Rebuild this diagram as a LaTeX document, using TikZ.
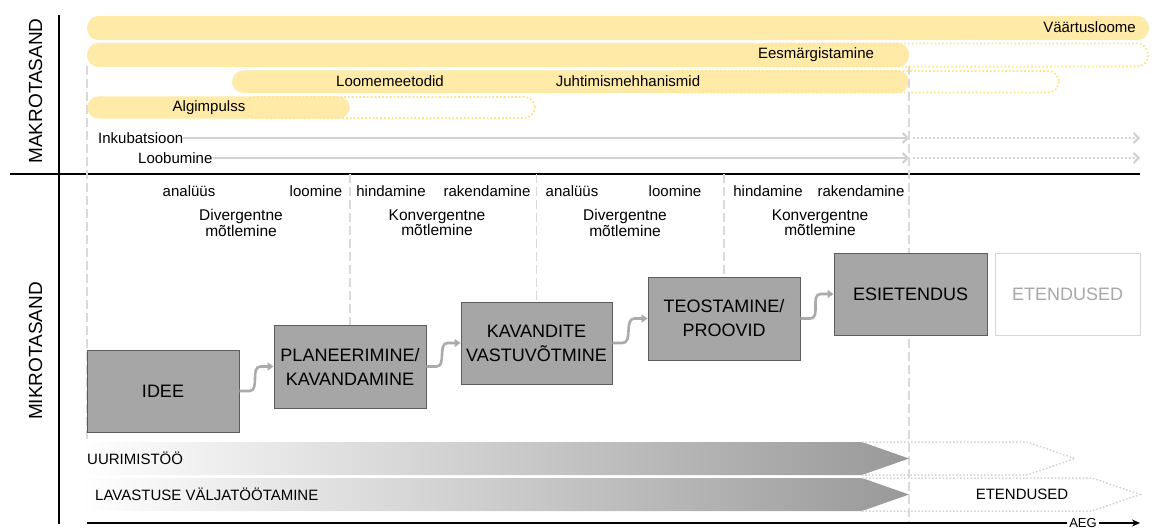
\documentclass[tikz,border=0pt]{standalone}
\usepackage{fontspec}
\setmainfont{Liberation Sans}
\usetikzlibrary{arrows.meta,calc}

\definecolor{barYellow}{HTML}{FFEAA8}
\definecolor{dotYellow}{HTML}{FFE490}
\definecolor{guide}{HTML}{DADADA}
\definecolor{trackGray}{HTML}{D2D2D2}
\definecolor{boxGray}{HTML}{A6A6A6}
\definecolor{boxEdge}{HTML}{5C5C5C}
\definecolor{flowGray}{HTML}{ABABAB}
\definecolor{ghostText}{HTML}{A8A8A8}
\definecolor{ghostEdge}{HTML}{D6D6D6}

\begin{document}
\begin{tikzpicture}[x=1pt,y=-1pt,
  lbl/.style={font=\fontsize{15}{15}\selectfont, inner sep=0pt},
  small/.style={font=\fontsize{13}{13}\selectfont, inner sep=2pt},
  pair/.style={font=\fontsize{15.5}{13.5}\selectfont, inner sep=0pt, align=center},
  level/.style={font=\fontsize{19}{19}\selectfont, inner sep=0pt, rotate=90},
  stage/.style={draw=boxEdge, line width=0.9pt, fill=boxGray, minimum width=152pt,
    minimum height=82pt, inner sep=0pt, align=center,
    font=\fontsize{18}{24}\selectfont},
  ghost/.style={stage, draw=ghostEdge, fill=white, text=ghostText},
  bar/.style={fill=barYellow, rounded corners=11.5pt},
  barext/.style={draw=dotYellow, line width=1.8pt, dotted, rounded corners=11pt},
  guideline/.style={draw=guide, line width=1.8pt, dash pattern=on 9pt off 4pt},
  track/.style={draw=trackGray, line width=2pt, -{Straight Barb[length=5pt,width=10pt]}},
  trackext/.style={track, dotted},
  flow/.style={draw=flowGray, line width=2.6pt, -{Triangle[length=6pt,width=8pt]}},
  axis/.style={draw=black, line width=1.8pt},
  bandext/.style={draw=trackGray, line width=1.5pt, dotted}
]
\useasboundingbox (0,0) rectangle (1155,532);

% ---------- frame ----------
\coordinate (sep) at (0,174);
\draw[axis] (59,15) -- (59,524);
\draw[axis] (10,174) -- (1140,174);
\node[level] (makro) at (35.5,91) {MAKROTASAND};
\node[level] (mikro) at (35.5,351) {MIKROTASAND};

% ---------- macro level bars ----------
\fill[bar] (87,16) rectangle (1149,40);
\fill[bar] (87,43) rectangle (909,67);
\fill[bar] (232,70.5) rectangle (909,93);
\fill[bar] (87,96.5) rectangle (350,118.5);
\draw[barext] (757,43.5) rectangle (1148,66.5);
\draw[barext] (667,71) rectangle (1059,92.5);
\draw[barext] (243,97) rectangle (535,118);

\node[lbl, anchor=east] (vaartus) at (1136,27.5) {Väärtusloome};
\node[lbl] (eesmark) at (816,55) {Eesmärgistamine};
\node[lbl] (loome) at (390,81.5) {Loomemeetodid};
\node[lbl] (juht) at (628,81.5) {Juhtimismehhanismid};
\node[lbl] (algi) at (209,107.5) {Algimpulss};

% ---------- guides ----------
\coordinate (endmark) at (909,66);
\draw[guideline] (87,66) -- (87,440);
\draw[guideline] (endmark) -- (909,523);

% ---------- incubation / drop-out tracks ----------
\node[lbl, anchor=west] (inku) at (98,138) {Inkubatsioon};
\node[lbl, anchor=west] (loob) at (138,158) {Loobumine};
\coordinate (inkuEnd) at (909,138);
\coordinate (loobEnd) at (909,158);
\draw[track] (inku.east) -- (inkuEnd);
\draw[track] (loob.east) -- (loobEnd);
\draw[trackext] ($(inkuEnd)+(4,0)$) -- (1140,138);
\draw[trackext] ($(loobEnd)+(4,0)$) -- (1140,158);

% ---------- micro level phases ----------
\node[lbl] (an1) at (189,191) {analüüs};
\node[lbl] (lo1) at (316,191) {loomine};
\node[lbl] (hi1) at (391,191) {hindamine};
\node[lbl] (ra1) at (487,191) {rakendamine};
\node[lbl] (an2) at (572,191) {analüüs};
\node[lbl] (lo2) at (675,191) {loomine};
\node[lbl] (hi2) at (768,191) {hindamine};
\node[lbl] (ra2) at (861,191) {rakendamine};

\node[pair] (div1) at (241,223) {Divergentne\\mõtlemine};
\node[pair] (kon1) at (437,223) {Konvergentne\\mõtlemine};
\node[pair] (div2) at (625,223) {Divergentne\\mõtlemine};
\node[pair] (kon2) at (820,223) {Konvergentne\\mõtlemine};

% ---------- stages ----------
\coordinate (ideeC) at (163,391);
\coordinate (planC) at (350,366.5);
\coordinate (kavC) at (536.5,343);
\coordinate (teoC) at (724,318.5);

\draw[guideline] (planC |- sep) -- (planC);
\draw[guideline] (kavC |- sep) -- (kavC);
\draw[guideline] (teoC |- sep) -- (teoC);

\node[stage] (idee) at (ideeC) {IDEE};
\node[stage, minimum height=83pt] (plan) at (planC) {PLANEERIMINE/\\KAVANDAMINE};
\node[stage, minimum width=151pt] (kav) at (kavC) {KAVANDITE\\VASTUVÕTMINE};
\node[stage, minimum height=83pt] (teo) at (teoC) {TEOSTAMINE/\\PROOVID};
\node[stage, minimum width=153pt] (esi) at (910.5,294) {ESIETENDUS};
\node[ghost, minimum width=145pt] (ete) at (1067.5,294) {ETENDUSED};

\foreach \a/\b in {idee/plan, plan/kav, kav/teo, teo/esi}{
  \draw[flow] (\a.east) -- ($(\a.east)+(10,0)$)
    to[out=0,in=180] ($(\b.west)+(-13,0)$) -- (\b.west);
}

% ---------- long-running processes ----------
\shade[left color=white, right color=black!40]
  (80,442) -- (862,442) -- (909,458.5) -- (862,475) -- (80,475) -- cycle;
\shade[left color=white, right color=black!40]
  (80,478) -- (862,478) -- (909,494.5) -- (862,511) -- (80,511) -- cycle;
\draw[bandext] (862,442) -- (1027,442) -- (1075,458.5) -- (1027,475) -- (862,475);
\draw[bandext] (862,478) -- (1092,478) -- (1140,494.5) -- (1092,511) -- (862,511);

\node[lbl, anchor=west] (uuri) at (87,458) {UURIMISTÖÖ};
\node[lbl, anchor=west] (lav) at (95,494.5) {LAVASTUSE VÄLJATÖÖTAMINE};
\node[lbl] (etend) at (1022,494.5) {ETENDUSED};

% ---------- time axis ----------
\coordinate (axisStart) at (87,523);
\node[small] (aeg) at (1083,523) {AEG};
\draw[axis] (axisStart) -- (aeg.west);
\draw[axis, -{Stealth[length=8pt,width=7pt]}] (aeg.east) -- (1140,523);

\end{tikzpicture}
\end{document}
